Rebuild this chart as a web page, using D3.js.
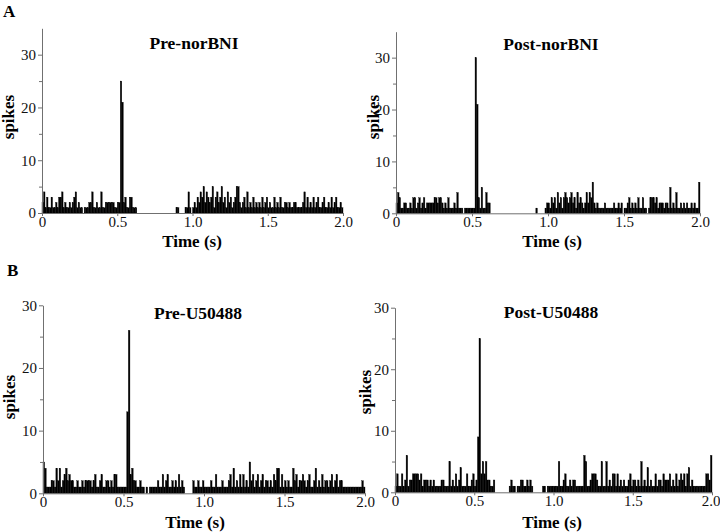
<!DOCTYPE html>
<html>
<head>
<meta charset="utf-8">
<script src="https://cdn.jsdelivr.net/npm/d3@7/dist/d3.min.js"></script>
<style>
  body { margin: 0; background: #fff; }
  svg { display: block; font-family: "Liberation Serif", "Times New Roman", serif; }
</style>
</head>
<body>
<div id="chart"></div>
<script>
// spike counts per 10 ms bin, 0 - 2.0 s (200 bins each)
var preNorBNI = [
  2,4,1,3,1,1,3,1,1,2, 1,3,3,4,1,2,1,1,2,1, 2,3,4,1,2,1,1,0,1,1, 1,2,2,4,1,1,2,1,1,4,
  1,1,2,2,2,2,2,2,1,1, 2,2,25,21,2,3,1,1,3,3, 1,1,1,0,0,0,0,0,0,0, 0,0,0,0,0,0,0,0,0,0,
  0,0,0,0,0,0,0,0,0,1, 1,0,0,0,0,1,1,4,1,0, 1,2,1,3,2,4,3,5,2,4, 3,2,3,5,1,3,4,2,3,5,
  2,3,1,4,2,3,1,2,3,5, 5,2,1,2,3,1,4,1,2,1, 3,1,2,1,2,1,3,1,2,3, 1,2,1,1,3,1,2,1,3,1,
  1,2,2,1,2,1,1,2,2,1, 1,1,1,2,4,1,3,1,2,1, 3,1,2,3,1,1,2,3,1,1, 2,1,3,1,2,3,1,1,2,1
];
var postNorBNI = [
  2,4,3,1,1,2,2,1,1,2, 1,3,3,1,2,3,1,2,3,1, 2,2,2,2,2,3,3,2,3,3, 2,1,2,1,3,1,1,1,2,1,
  4,1,1,1,0,1,1,1,1,1, 1,1,30,21,3,1,5,1,1,4, 2,2,0,0,0,0,0,0,0,0, 0,0,0,0,0,0,0,0,0,0,
  0,0,0,0,0,0,0,0,0,0, 0,0,1,0,0,0,0,0,1,2, 2,1,3,2,3,1,4,2,3,1, 3,4,3,2,3,4,2,3,1,4,
  2,3,2,1,2,4,2,4,3,6, 2,1,2,1,1,1,1,2,1,1, 1,1,1,2,1,1,2,1,2,0, 1,1,2,3,1,2,1,2,1,3,
  1,1,3,1,1,0,1,3,3,3, 2,3,1,2,2,2,1,2,2,1, 5,1,2,1,4,1,1,2,1,2, 1,2,1,1,2,1,2,1,1,6
];
var preU50488 = [
  5,4,1,1,1,2,2,1,4,2, 4,1,2,3,4,2,3,2,2,1, 1,2,1,1,2,1,2,2,2,2, 1,2,3,1,1,2,3,1,1,2,
  2,1,2,1,3,3,1,1,1,1, 1,1,13,26,3,4,2,2,1,1, 2,1,1,0,1,0,1,1,1,1, 1,2,1,1,3,1,2,3,1,1,
  2,1,2,1,3,1,2,1,0,0, 0,0,0,2,1,1,2,1,1,2, 1,1,1,1,2,1,1,3,1,1, 1,2,1,1,1,2,3,1,4,1,
  2,1,3,1,3,1,2,1,5,2, 3,1,2,3,1,2,3,1,2,2, 1,2,1,3,2,4,4,1,3,1, 2,1,2,1,1,4,2,3,1,2,
  2,3,2,1,2,3,1,1,2,4, 1,2,1,3,1,2,2,1,2,3, 1,2,3,1,2,2,1,1,1,1, 1,1,1,1,1,1,1,1,2,1
];
var postU50488 = [
  1,3,1,1,3,1,2,6,1,2, 2,3,3,3,3,2,3,1,2,2, 2,1,2,1,2,1,1,1,1,2, 2,1,1,1,5,1,2,1,3,1,
  2,4,1,1,1,3,1,1,2,3, 1,2,9,25,3,5,3,5,2,2, 1,1,2,0,0,0,0,0,0,0, 0,0,1,2,1,1,0,1,1,2,
  2,1,1,2,1,2,1,0,0,0, 0,0,0,1,1,0,1,1,1,1, 1,1,1,5,1,1,2,3,1,1, 2,1,2,2,1,1,1,1,1,6,
  5,1,1,2,3,3,3,2,1,1, 5,1,1,5,1,2,1,3,3,1, 3,1,2,1,2,1,1,2,3,1, 2,2,1,2,1,5,1,2,1,4,
  1,2,1,1,3,1,2,2,1,3, 2,2,2,3,1,2,1,3,1,2, 3,2,3,1,3,4,1,2,1,1, 1,1,1,1,1,1,3,3,2,6
];

var titles = ['Pre-norBNI', 'Post-norBNI', 'Pre-U50488', 'Post-U50488'];
var xTicks = [0, 0.5, 1.0, 1.5, 2.0];
var yTicks = [0, 10, 20, 30];
var yMinorTicks = [5, 15, 25];
var binWidth = 0.01;

var width = 720, height = 532;
var axisColor = '#707070';

var svg = d3.select('#chart').append('svg')
  .attr('width', width)
  .attr('height', height);

// panel frames: x0/x1 = 0 s / 2 s, y0 = 0 spikes, yTop = top of y axis
var panels = [
  { data: preNorBNI,  title: titles[0], x0: 42,  x1: 343, y0: 213,   yTop: 28.3,  yMax: 35, tx: 194, ty: 49,  sx: 14,  sy: 117, lx: 192, ly: 247 },
  { data: postNorBNI, title: titles[1], x0: 396, x1: 700, y0: 213.3, yTop: 31.7,  yMax: 35, tx: 551, ty: 50,  sx: 379, sy: 117, lx: 552, ly: 247 },
  { data: preU50488,  title: titles[2], x0: 43,  x1: 365, y0: 493.3, yTop: 305.3, yMax: 30, tx: 198, ty: 319, sx: 15,  sy: 397, lx: 195, ly: 528 },
  { data: postU50488, title: titles[3], x0: 395, x1: 712, y0: 492.3, yTop: 307.7, yMax: 30, tx: 551, ty: 318, sx: 371, sy: 392, lx: 552, ly: 528 }
];

panels.forEach(function(p) {
  var x = d3.scaleLinear().domain([0, 2]).range([p.x0, p.x1]);
  var y = d3.scaleLinear().domain([0, p.yMax]).range([p.y0, p.yTop]);
  var g = svg.append('g');

  // keep the bin index with each count so empty bins can be skipped
  var bins = p.data.map(function(v, i) { return { t: i * binWidth, v: v }; })
    .filter(function(d) { return d.v > 0; });

  var bw = x(binWidth) - x(0);
  g.append('g').selectAll('rect')
    .data(bins)
    .enter().append('rect')
    .attr('x', function(d) { return x(d.t); })
    .attr('y', function(d) { return y(d.v); })
    .attr('width', bw)
    .attr('height', function(d) { return y(0) - y(d.v); })
    .attr('fill', '#000')
    .attr('stroke', '#000')
    .attr('stroke-width', 0.35);

  // y axis, major + minor ticks
  var yAxis = g.append('g')
    .attr('transform', 'translate(' + p.x0 + ',0)')
    .call(d3.axisLeft(y).tickValues(yTicks).tickSize(4).tickSizeOuter(0).tickPadding(2));
  g.append('g')
    .attr('transform', 'translate(' + p.x0 + ',0)')
    .call(d3.axisLeft(y).tickValues(yMinorTicks).tickSize(3).tickSizeOuter(0).tickFormat(''))
    .select('.domain').remove();

  var xAxis = g.append('g')
    .attr('transform', 'translate(0,' + p.y0 + ')')
    .call(d3.axisBottom(x).tickValues(xTicks).tickSize(3).tickSizeOuter(0).tickPadding(0)
      .tickFormat(function(d) { return d === 0 ? '0' : d3.format('.1f')(d); }));

  // last label of the right-hand panels sits against the page edge
  if (p.x1 > 705) {
    xAxis.selectAll('.tick text').filter(function(d) { return d === 2; })
      .attr('text-anchor', 'end').attr('dx', 8);
  }

  svg.selectAll('.domain, .tick line').attr('stroke', axisColor);
  [yAxis, xAxis].forEach(function(a) {
    a.selectAll('text')
      .attr('fill', '#111')
      .style('font-family', '"Liberation Serif", serif')
      .style('font-size', '15px');
  });

  g.append('text')
    .attr('x', p.tx).attr('y', p.ty)
    .attr('text-anchor', 'middle')
    .attr('font-weight', 'bold')
    .attr('font-size', 17.5)
    .text(p.title);

  g.append('text')
    .attr('transform', 'translate(' + p.sx + ',' + p.sy + ') rotate(-90)')
    .attr('text-anchor', 'middle')
    .attr('font-weight', 'bold')
    .attr('font-size', 17)
    .text('spikes');

  g.append('text')
    .attr('x', p.lx).attr('y', p.ly)
    .attr('text-anchor', 'middle')
    .attr('font-weight', 'bold')
    .attr('font-size', 17)
    .text('Time (s)');
});

svg.append('text').attr('x', 3).attr('y', 17)
  .attr('font-weight', 'bold').attr('font-size', 17).text('A');
svg.append('text').attr('x', 7).attr('y', 276)
  .attr('font-weight', 'bold').attr('font-size', 17).text('B');
</script>
</body>
</html>
